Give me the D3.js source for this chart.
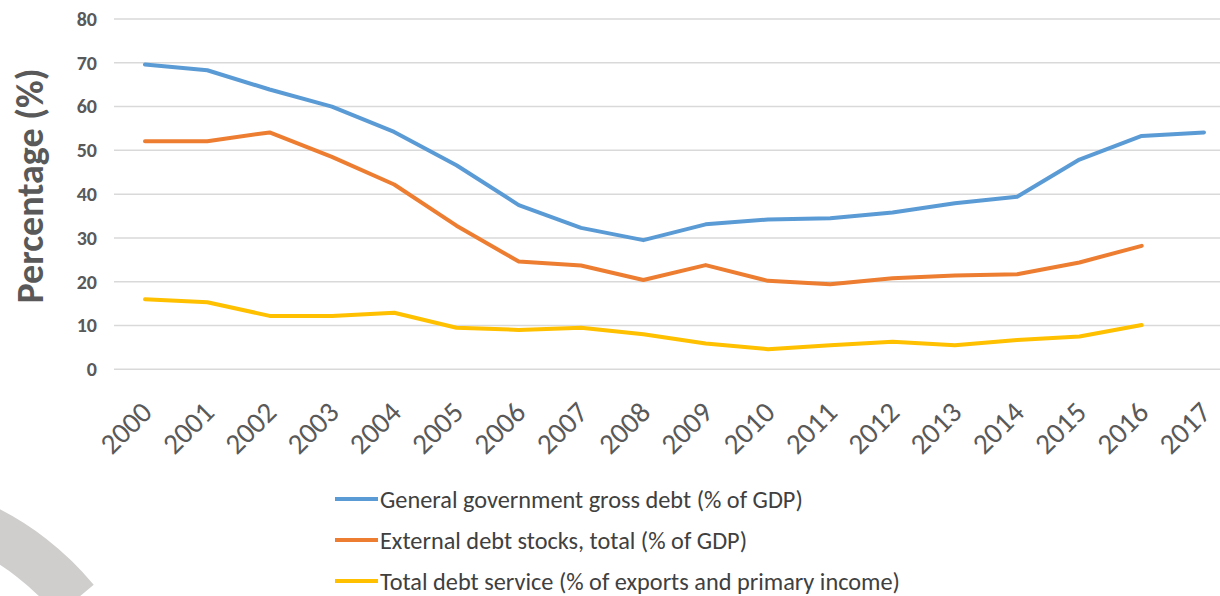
<!DOCTYPE html>
<html>
<head>
<meta charset="utf-8">
<script src="https://cdn.jsdelivr.net/npm/d3@7"></script>
<style>
  html, body { margin: 0; padding: 0; background: #fff; }
  svg { display: block; }
</style>
</head>
<body>
<svg id="chart"></svg>
<script>
// data
const years = ['2000','2001','2002','2003','2004','2005','2006','2007','2008',
  '2009','2010','2011','2012','2013','2014','2015','2016','2017'];
const govDebt = [69.6, 68.3, 63.9, 60.0, 54.2, 46.6, 37.5, 32.3, 29.5,
  33.1, 34.2, 34.5, 35.8, 37.9, 39.4, 47.9, 53.3, 54.1];
const extDebt = [52.1, 52.1, 54.1, 48.5, 42.2, 32.8, 24.6, 23.7, 20.4,
  23.8, 20.2, 19.4, 20.8, 21.4, 21.7, 24.4, 28.2, null];
const debtService = [16.0, 15.3, 12.2, 12.2, 12.9, 9.5, 9.0, 9.5, 8.0,
  5.9, 4.6, 5.5, 6.3, 5.5, 6.7, 7.5, 10.1, null];
const yTicks = [0, 10, 20, 30, 40, 50, 60, 70, 80];
const seriesNames = [
  'General government gross debt (% of GDP)',
  'External debt stocks, total (% of GDP)',
  'Total debt service (% of exports and primary income)'
];

const W = 1220, H = 596;
const colors = ['#5B9BD5', '#ED7D31', '#FFC000'];
const font = "Calibri, Carlito, 'Open Sans', sans-serif";
const txt = '#595959';

const svg = d3.select('#chart').attr('width', W).attr('height', H);

// faint grey ring piece, bottom left
const ring = d3.arc().innerRadius(252).outerRadius(300).startAngle(0).endAngle(0.88);
svg.append('path')
  .attr('transform', 'translate(-137.5,776)')
  .attr('d', ring())
  .attr('fill', '#d0cecd');

const x = d3.scalePoint().domain(years).range([145, 1204]);
const y = d3.scaleLinear().domain([0, 80]).range([369.3, 19]);

// gridlines
svg.append('g').selectAll('line').data(yTicks).join('line')
  .attr('x1', 114).attr('x2', W)
  .attr('y1', d => y(d)).attr('y2', d => y(d))
  .attr('stroke', '#d9d9d9').attr('stroke-width', 1.5);

// y axis labels
const yAxis = svg.append('g')
  .attr('transform', 'translate(103,0)')
  .call(d3.axisLeft(y).tickValues(yTicks).tickSize(0).tickPadding(6));
yAxis.select('.domain').remove();
yAxis.selectAll('text')
  .attr('font-family', font).attr('font-size', 20).attr('font-weight', 700)
  .attr('fill', txt);

// y title
svg.append('text')
  .attr('transform', 'translate(43,186) rotate(-90)')
  .attr('text-anchor', 'middle')
  .attr('font-family', font).attr('font-size', 38).attr('font-weight', 700)
  .attr('fill', txt)
  .text('Percentage (%)');

// x axis labels
const xAxis = svg.append('g')
  .attr('transform', 'translate(0,369)')
  .call(d3.axisBottom(x).tickSize(0));
xAxis.select('.domain').remove();
xAxis.selectAll('text')
  .attr('font-family', font).attr('font-size', 29)
  .attr('fill', txt)
  .attr('text-anchor', 'end')
  .attr('y', 0).attr('dy', '0.35em')
  .attr('transform', 'translate(1,38) rotate(-45)');

// series lines
const line = d3.line()
  .defined(d => d != null)
  .x((d, i) => x(years[i]))
  .y(d => y(d));

[govDebt, extDebt, debtService].forEach((s, k) => {
  svg.append('path')
    .datum(s)
    .attr('d', line)
    .attr('fill', 'none')
    .attr('stroke', colors[k])
    .attr('stroke-width', 4)
    .attr('stroke-linejoin', 'round')
    .attr('stroke-linecap', 'round');
});

// legend
const leg = svg.append('g').attr('transform', 'translate(335,499)');
const rows = leg.selectAll('g').data(seriesNames).join('g')
  .attr('transform', (d, i) => `translate(0,${i * 41})`);
rows.append('line')
  .attr('x1', 0).attr('x2', 43)
  .attr('stroke', (d, i) => colors[i]).attr('stroke-width', 4);
rows.append('text')
  .attr('x', 45).attr('dy', '0.35em')
  .attr('font-family', font).attr('font-size', 24.3)
  .attr('fill', '#404040')
  .text(d => d);
</script>
</body>
</html>
